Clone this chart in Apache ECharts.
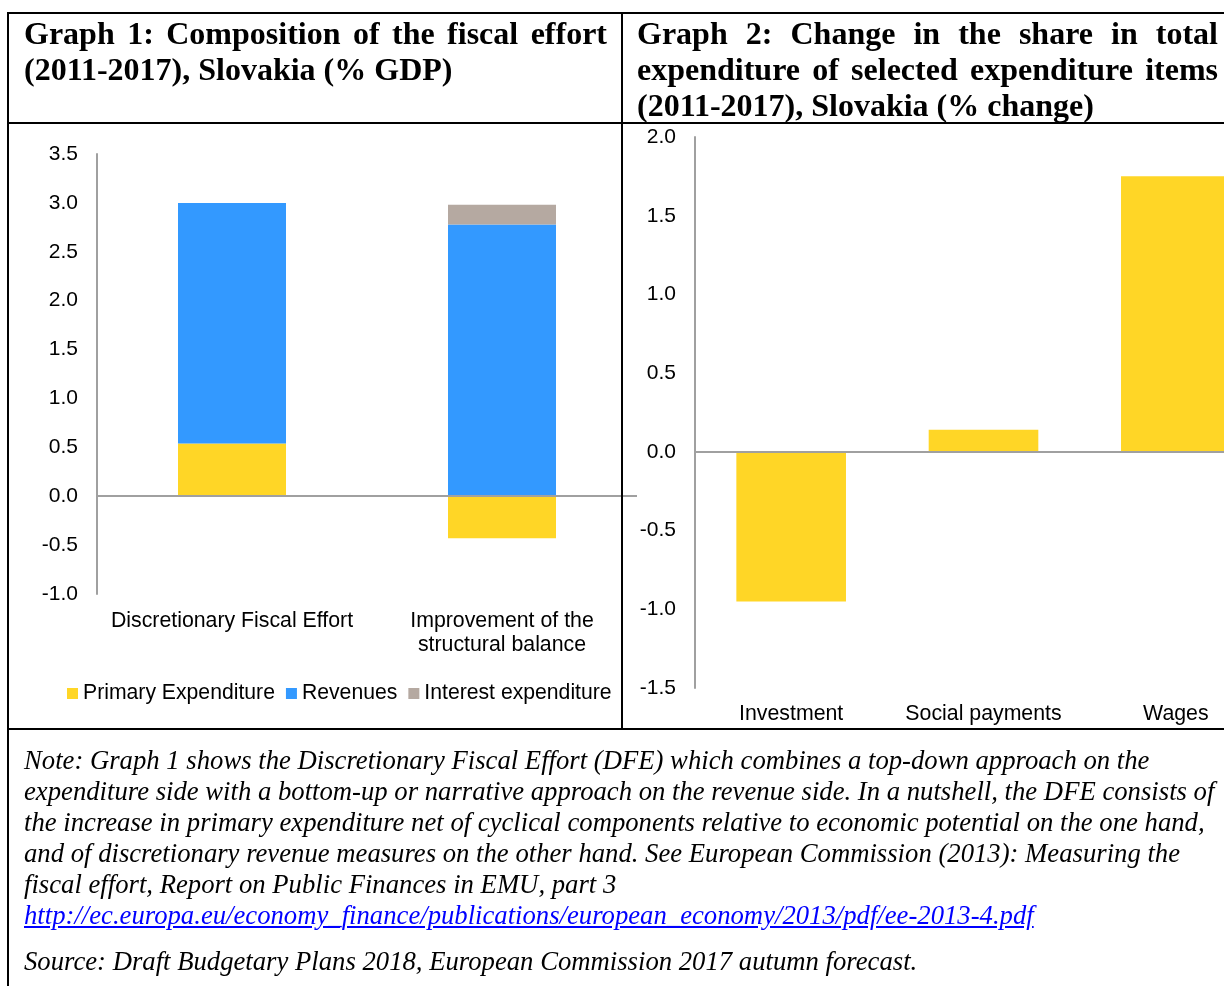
<!DOCTYPE html>
<html>
<head>
<meta charset="utf-8">
<script src="https://cdn.jsdelivr.net/npm/echarts@6/dist/echarts.min.js"></script>
<style>
  html, body { margin: 0; padding: 0; background: #fff; }
  body { width: 1224px; height: 986px; position: relative; overflow: hidden; }
  #chart { position: absolute; left: 0; top: 0; width: 1300px; height: 986px; }
  .b { position: absolute; background: #000; z-index: 2; }
  .hd { position: absolute; z-index: 3; font-family: "Liberation Serif", "Times New Roman", serif;
        font-weight: bold; font-size: 32px; line-height: 36px; color: #000; }
  .hd div { white-space: nowrap; }
  .hd .j { text-align: justify; text-align-last: justify; }
  .note { position: absolute; z-index: 3; left: 24px; top: 745px; font-family: "Liberation Serif", "Times New Roman", serif;
          font-style: italic; font-size: 26.7px; line-height: 31px; color: #000; white-space: nowrap; }
  .note a { color: #0000ff; text-decoration: underline; }
  .note .src { margin-top: 15px; }
</style>
</head>
<body>
<div id="chart"></div>

<!-- table borders -->
<div class="b" style="left:7px; top:12px; width:1230px; height:2px;"></div>
<div class="b" style="left:7px; top:12px; width:2px; height:980px;"></div>
<div class="b" style="left:7px; top:122px; width:1230px; height:2px;"></div>
<div class="b" style="left:7px; top:728px; width:1230px; height:2px;"></div>
<div class="b" style="left:621px; top:12px; width:2px; height:718px;"></div>

<div class="hd" style="left:24px; top:15px; width:583px;">
  <div class="j">Graph 1: Composition of the fiscal effort</div>
  <div>(2011-2017), Slovakia (% GDP)</div>
</div>
<div class="hd" style="left:637px; top:15px; width:581px;">
  <div class="j">Graph 2: Change in the share in total</div>
  <div class="j">expenditure of selected expenditure items</div>
  <div>(2011-2017), Slovakia (% change)</div>
</div>

<div class="note">
  <div>Note: Graph 1 shows the Discretionary Fiscal Effort (DFE) which combines a top-down approach on the</div>
  <div>expenditure side with a bottom-up or narrative approach on the revenue side. In a nutshell, the DFE consists of</div>
  <div>the increase in primary expenditure net of cyclical components relative to economic potential on the one hand,</div>
  <div>and of discretionary revenue measures on the other hand. See European Commission (2013): Measuring the</div>
  <div>fiscal effort, Report on Public Finances in EMU, part 3</div>
  <div><a>http://ec.europa.eu/economy_finance/publications/european_economy/2013/pdf/ee-2013-4.pdf</a></div>
  <div class="src">Source: Draft Budgetary Plans 2018, European Commission 2017 autumn forecast.</div>
</div>

<script>
// ---- Graph 1 data ----
const g1Categories = ['Discretionary Fiscal Effort', 'Improvement of the\nstructural balance'];
const g1SeriesNames = ['Primary Expenditure', 'Revenues', 'Interest expenditure'];
const g1Primary = [0.54, -0.43];
const g1Revenues = [2.46, 2.78];
const g1Interest = [0, 0.2];
const g1AxisMin = -1.0, g1AxisMax = 3.5, g1AxisStep = 0.5;

// ---- Graph 2 data ----
const g2Categories = ['Investment', 'Social payments', 'Wages'];
const g2Values = [-0.95, 0.14, 1.75];
const g2AxisMin = -1.5, g2AxisMax = 2.0, g2AxisStep = 0.5;

const YELLOW = '#FFD626', BLUE = '#3399FF', TAUPE = '#B5A9A1', AXIS = '#A0A0A0';
const FONT = '"Liberation Sans", Arial, sans-serif';

const chart = echarts.init(document.getElementById('chart'), null, { renderer: 'canvas' });

const zeroLine = {
  silent: true, symbol: 'none', label: { show: false },
  lineStyle: { color: AXIS, width: 2, type: 'solid' },
  data: [{ yAxis: 0 }]
};

const valAxis = (idx, min, max, step) => ({
  type: 'value', gridIndex: idx, min: min, max: max, interval: step,
  axisLine: { show: true, onZero: false, lineStyle: { color: AXIS, width: 2 } },
  axisTick: { show: false },
  splitLine: { show: false },
  axisLabel: { color: '#000', fontSize: 21, fontFamily: FONT, margin: 19,
               formatter: v => v.toFixed(1) }
});

const catAxis = (idx, data, margin) => ({
  type: 'category', gridIndex: idx, data: data,
  axisLine: { show: false, onZero: false },
  axisTick: { show: false },
  axisLabel: { color: '#000', fontSize: 21.3, fontFamily: FONT, margin: margin, lineHeight: 24, interval: 0 }
});

chart.setOption({
  animation: false,
  textStyle: { fontFamily: FONT },
  grid: [
    { left: 97, top: 154, width: 540, height: 440, containLabel: false },
    { left: 695, top: 137, width: 577, height: 551, containLabel: false }
  ],
  xAxis: [ catAxis(0, g1Categories, 15), catAxis(1, g2Categories, 14) ],
  yAxis: [ valAxis(0, g1AxisMin, g1AxisMax, g1AxisStep), valAxis(1, g2AxisMin, g2AxisMax, g2AxisStep) ],
  legend: {
    data: g1SeriesNames,
    left: 67, top: 683, padding: 0,
    icon: 'rect', itemWidth: 11, itemHeight: 11, itemGap: 11,
    textStyle: { color: '#000', fontSize: 21.2, fontFamily: FONT }
  },
  series: [
    { name: g1SeriesNames[0], type: 'bar', stack: 'g1', xAxisIndex: 0, yAxisIndex: 0,
      data: g1Primary, barWidth: '40%', itemStyle: { color: YELLOW }, markLine: zeroLine },
    { name: g1SeriesNames[1], type: 'bar', stack: 'g1', xAxisIndex: 0, yAxisIndex: 0,
      data: g1Revenues, barWidth: '40%', itemStyle: { color: BLUE } },
    { name: g1SeriesNames[2], type: 'bar', stack: 'g1', xAxisIndex: 0, yAxisIndex: 0,
      data: g1Interest, barWidth: '40%', itemStyle: { color: TAUPE } },
    { name: 'Change in share', type: 'bar', xAxisIndex: 1, yAxisIndex: 1,
      data: g2Values, barWidth: '57%', itemStyle: { color: YELLOW }, markLine: zeroLine }
  ]
});
</script>
</body>
</html>
